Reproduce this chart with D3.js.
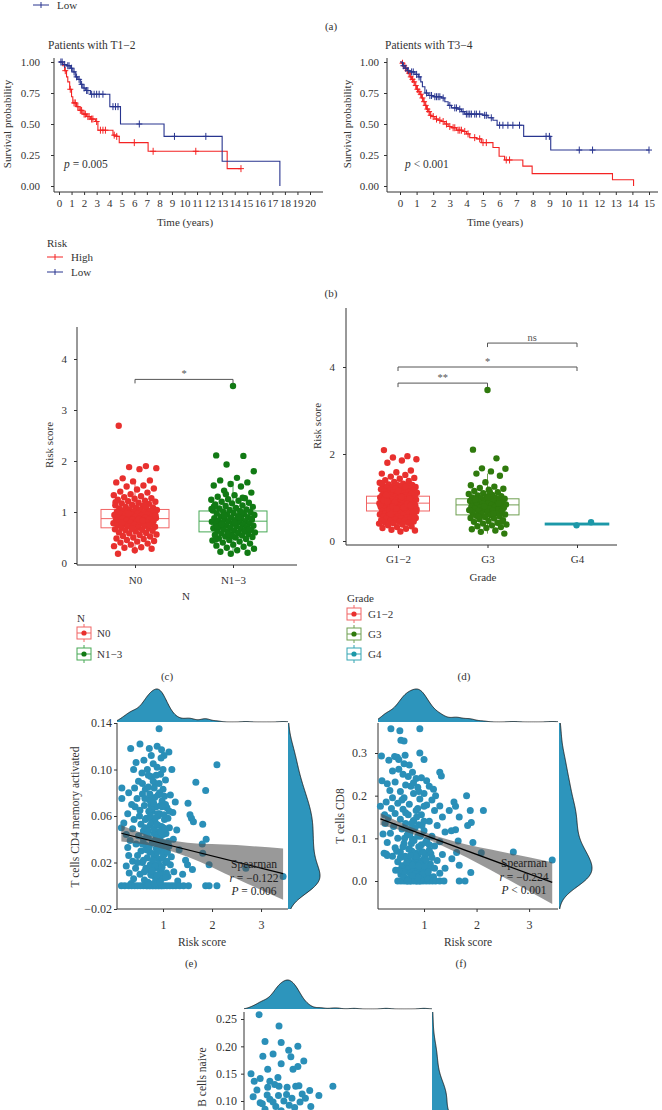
<!DOCTYPE html>
<html><head><meta charset="utf-8">
<script src="https://cdn.jsdelivr.net/npm/d3@7"></script>
<style>
body{margin:0;background:#fff;}
svg text{font-family:"Liberation Serif","DejaVu Serif",serif;}
</style></head><body>
<svg id="c" width="662" height="1110" style="background:#fff"></svg>
<script>
// ---------- DATA ----------
// (b) Kaplan–Meier, T1–2
const t12HighTime=[0,0.3,0.45,0.6,0.7,0.85,1.0,1.1,1.4,1.6,1.9,2.2,2.5,2.9,3.1,4.3,4.6,4.8,7.1,13.4];
const t12HighSurv=[1,0.97,0.93,0.88,0.84,0.78,0.72,0.67,0.64,0.61,0.58,0.56,0.54,0.52,0.45,0.41,0.40,0.35,0.28,0.14];
const t12HighEnd=14.5;
const t12HighCensor=[0.5,0.9,1.2,1.3,1.5,1.7,1.8,2.0,2.1,2.3,2.4,2.6,2.7,3.0,3.3,3.5,3.7,4.4,4.6,6.0,7.5,10.9,14.5];
const t12LowTime=[0,0.3,0.6,0.9,1.1,1.3,1.5,1.7,1.9,2.1,2.5,4.05,4.9,8.37,13.0,17.6];
const t12LowSurv=[1,0.98,0.97,0.95,0.92,0.88,0.86,0.82,0.79,0.77,0.74,0.64,0.50,0.40,0.20,0];
const t12LowEnd=17.6;
const t12LowCensor=[0.15,0.25,0.45,0.7,0.8,1.0,1.2,1.4,1.6,1.8,2.0,2.2,2.3,2.6,2.8,3.0,3.2,3.5,4.3,4.5,4.7,6.4,9.2,11.7];
// (b) Kaplan–Meier, T3–4
const t34HighTime=[0,0.1,0.2,0.3,0.4,0.5,0.6,0.7,0.8,0.9,1.0,1.1,1.2,1.3,1.4,1.5,1.6,1.7,1.8,1.9,2.1,2.3,2.5,2.7,2.9,3.1,3.4,3.8,4.0,4.2,4.6,4.9,5.6,5.97,6.3,7.4,7.96,12.8,14.07];
const t34HighSurv=[1,0.99,0.97,0.95,0.93,0.91,0.88,0.86,0.84,0.81,0.78,0.76,0.74,0.71,0.68,0.65,0.62,0.60,0.57,0.56,0.54,0.53,0.52,0.50,0.48,0.47,0.45,0.44,0.42,0.39,0.38,0.35,0.31,0.24,0.21,0.16,0.10,0.05,0.0];
const t34HighEnd=14.07;
const t34HighCensor=[0.15,0.25,0.35,0.45,0.55,0.65,0.75,0.85,0.95,1.05,1.15,1.25,1.35,1.45,1.55,1.65,1.75,1.85,2.0,2.2,2.4,2.6,2.8,3.0,3.2,3.3,3.5,3.6,3.7,3.9,4.1,4.5,4.8,5.0,5.2,6.4,6.6];
const t34LowTime=[0,0.15,0.3,0.45,0.6,0.9,1.1,1.25,1.35,1.5,1.7,2.0,2.5,2.7,2.9,3.1,3.5,3.7,3.9,5.0,5.3,5.6,5.85,7.45,9.08];
const t34LowSurv=[1,0.97,0.95,0.93,0.92,0.90,0.88,0.84,0.80,0.75,0.73,0.72,0.71,0.68,0.65,0.63,0.62,0.60,0.58,0.57,0.55,0.53,0.49,0.40,0.29];
const t34LowEnd=15.0;
const t34LowCensor=[0.2,0.35,0.5,0.7,0.8,1.0,1.15,1.6,1.8,1.9,2.1,2.2,2.3,2.4,2.6,3.0,3.3,3.4,3.6,3.8,4.0,4.1,4.2,4.3,4.5,4.6,4.8,5.1,5.2,5.5,6.0,6.2,6.5,6.8,7.2,8.8,9.0,10.8,11.6,15.0];

// (c) Risk score by N stage
const nCats=["N0","N1−3"];
const riskN0=[2.69,1.90,1.88,1.86,1.84,1.66,1.62,1.60,1.58,1.52,1.50,1.46,1.44,1.40,1.38,1.35,1.33,1.31,1.29,1.27,1.26,1.24,1.22,1.21,1.20,1.18,1.17,1.16,1.14,1.13,1.12,1.10,1.09,1.08,1.07,1.06,1.05,1.04,1.04,1.03,1.02,1.01,1.00,0.99,0.99,0.98,0.97,0.96,0.95,0.95,0.94,0.93,0.92,0.91,0.91,0.90,0.89,0.88,0.88,0.87,0.87,0.86,0.85,0.84,0.84,0.83,0.82,0.81,0.80,0.80,0.79,0.78,0.77,0.76,0.76,0.75,0.74,0.73,0.72,0.71,0.70,0.69,0.68,0.67,0.66,0.65,0.64,0.63,0.62,0.60,0.59,0.58,0.56,0.55,0.53,0.52,0.50,0.48,0.47,0.45,0.43,0.42,0.40,0.38,0.36,0.33,0.31,0.30,0.28,0.25,0.18,1.11,0.97,0.93,0.86,0.79,0.74,0.68,1.19,0.83];
const riskN13=[3.47,2.11,2.10,1.93,1.80,1.67,1.62,1.58,1.55,1.52,1.50,1.42,1.38,1.33,1.30,1.27,1.25,1.24,1.22,1.20,1.18,1.17,1.15,1.13,1.12,1.10,1.08,1.07,1.05,1.04,1.03,1.02,1.01,1.00,0.98,0.97,0.96,0.95,0.94,0.92,0.91,0.90,0.89,0.88,0.87,0.86,0.85,0.84,0.83,0.82,0.82,0.81,0.80,0.79,0.78,0.77,0.76,0.75,0.74,0.73,0.72,0.71,0.70,0.69,0.68,0.67,0.66,0.65,0.64,0.63,0.62,0.61,0.60,0.59,0.58,0.57,0.56,0.55,0.54,0.52,0.51,0.50,0.48,0.47,0.45,0.44,0.42,0.40,0.38,0.36,0.34,0.32,0.30,0.28,0.25,0.22,0.20,0.18,1.11,0.99,0.93,0.87,0.79,0.71,0.64,0.57,1.06,0.90,0.76,0.66,0.53,0.46,1.28,1.35];
// box stats: [lower whisker, Q1, median, Q3, upper whisker]
const nStats=[[0.18,0.69,0.87,1.05,1.58],[0.18,0.61,0.82,1.02,1.60]];
const nBrackets=[["N0","N1−3",3.6,"*"]];

// (d) Risk score by grade
const gCats=["G1−2","G3","G4"];
const riskG12=[2.09,1.95,1.92,1.88,1.85,1.80,1.62,1.58,1.55,1.52,1.48,1.45,1.43,1.40,1.38,1.36,1.34,1.32,1.30,1.29,1.28,1.27,1.26,1.25,1.24,1.23,1.22,1.21,1.20,1.19,1.18,1.17,1.16,1.15,1.14,1.13,1.12,1.11,1.10,1.09,1.08,1.07,1.06,1.05,1.05,1.04,1.03,1.03,1.02,1.01,1.00,1.00,0.99,0.98,0.98,0.97,0.96,0.96,0.95,0.94,0.94,0.93,0.92,0.92,0.91,0.90,0.90,0.89,0.88,0.88,0.87,0.87,0.86,0.86,0.85,0.84,0.84,0.83,0.82,0.82,0.81,0.80,0.80,0.79,0.78,0.78,0.77,0.76,0.76,0.75,0.74,0.74,0.73,0.72,0.71,0.70,0.70,0.69,0.68,0.67,0.66,0.65,0.64,0.63,0.62,0.61,0.60,0.59,0.58,0.57,0.56,0.55,0.54,0.53,0.52,0.51,0.50,0.49,0.48,0.47,0.46,0.45,0.44,0.43,0.42,0.41,0.40,0.38,0.36,0.34,0.32,0.30,0.28,0.26,0.24,0.22,1.06,0.97,0.89,0.83,0.77,0.72,0.66,1.15,0.93,0.85,0.79,0.68,1.01,0.91,0.81,0.75,1.33,1.25,0.62,0.57];
const riskG3=[3.47,2.10,1.90,1.67,1.66,1.60,1.55,1.50,1.35,1.28,1.25,1.22,1.20,1.18,1.15,1.12,1.10,1.08,1.06,1.05,1.03,1.02,1.00,0.99,0.98,0.97,0.96,0.95,0.94,0.93,0.92,0.91,0.90,0.89,0.88,0.87,0.86,0.85,0.84,0.83,0.82,0.81,0.80,0.79,0.78,0.77,0.76,0.75,0.74,0.73,0.72,0.71,0.70,0.69,0.68,0.66,0.65,0.64,0.62,0.61,0.60,0.58,0.57,0.55,0.53,0.52,0.50,0.48,0.46,0.44,0.42,0.40,0.38,0.36,0.34,0.32,0.30,0.27,0.24,0.21,0.17,1.13,0.95,0.87,0.80,0.71,0.63,0.56,0.45,1.00];
const riskG4=[0.43,0.36];
const gStats=[[0.22,0.69,0.87,1.03,1.55],[0.17,0.60,0.83,0.97,1.55],[0.36,0.375,0.39,0.405,0.43]];
const gBrackets=[["G1−2","G3",3.63,"**"],["G1−2","G4",4.0,"*"],["G3","G4",4.55,"ns"]];

// (e) Risk score vs T cells CD4 memory activated  [risk, fraction]
const eData=[[0.92,0.135],[0.53,0.122],[0.34,0.118],[0.72,0.118],[0.97,0.117],[1.12,0.115],[1.02,0.112],[0.61,0.108],[0.45,0.106],[0.80,0.105],[0.88,0.102],[0.40,0.100],[0.68,0.100],[1.18,0.100],[2.10,0.104],[0.57,0.097],[0.95,0.096],[0.75,0.094],[1.05,0.091],[0.50,0.090],[0.84,0.088],[1.67,0.089],[0.16,0.084],[0.42,0.084],[0.64,0.083],[1.00,0.083],[1.87,0.082],[0.30,0.080],[0.58,0.079],[0.90,0.078],[1.15,0.078],[0.16,0.075],[0.47,0.075],[0.72,0.074],[0.98,0.073],[1.25,0.072],[1.51,0.071],[0.36,0.070],[0.62,0.069],[0.86,0.068],[1.08,0.067],[0.53,0.065],[0.78,0.064],[1.20,0.063],[0.28,0.062],[0.93,0.062],[1.55,0.061],[1.58,0.058],[0.66,0.058],[1.03,0.057],[0.41,0.057],[0.83,0.056],[1.62,0.055],[0.20,0.054],[0.55,0.053],[1.81,0.053],[0.74,0.052],[0.97,0.051],[1.13,0.050],[0.15,0.050],[0.38,0.049],[1.28,0.048],[0.60,0.047],[0.88,0.046],[1.06,0.045],[0.25,0.044],[0.50,0.043],[0.70,0.042],[0.94,0.041],[1.21,0.040],[1.88,0.040],[0.33,0.039],[0.79,0.038],[1.01,0.037],[1.80,0.036],[0.45,0.036],[0.64,0.035],[1.12,0.034],[0.28,0.033],[0.86,0.032],[1.33,0.031],[0.55,0.030],[0.73,0.029],[0.99,0.029],[1.81,0.028],[0.30,0.026],[0.48,0.026],[1.17,0.025],[0.68,0.024],[0.92,0.023],[1.46,0.022],[0.38,0.021],[0.58,0.020],[1.05,0.020],[1.94,0.018],[0.80,0.018],[0.25,0.017],[1.50,0.018],[1.60,0.014],[0.44,0.015],[0.67,0.014],[2.69,0.015],[0.95,0.013],[1.22,0.012],[0.31,0.011],[0.53,0.010],[3.45,0.008],[0.76,0.009],[1.10,0.008],[1.40,0.010],[0.40,0.006],[0.62,0.005],[0.87,0.005],[1.30,0.004],[0.35,0.002],[0.72,0.002],[0.15,0],[0.22,0],[0.30,0],[0.36,0],[0.42,0],[0.48,0],[0.54,0],[0.60,0],[0.66,0],[0.72,0],[0.78,0],[0.84,0],[0.90,0],[0.96,0],[1.02,0],[1.08,0],[1.14,0],[1.20,0],[1.26,0],[1.34,0],[1.42,0],[1.52,0],[1.87,0],[1.94,0],[2.10,0],[0.52,0.060],[0.60,0.040],[0.70,0.085],[0.82,0.045],[0.90,0.060],[1.00,0.050],[1.10,0.058],[0.65,0.015],[0.75,0.070],[0.85,0.025],[0.95,0.035],[1.05,0.070],[0.58,0.088],[0.48,0.020],[1.15,0.018],[0.43,0.068],[0.80,0.010],[1.00,0.010],[0.63,0.050],[0.88,0.015]];
const eCore=[[0.62,0.012],[0.66,0.031],[0.70,0.047],[0.74,0.018],[0.77,0.055],[0.81,0.027],[0.83,0.008],[0.86,0.041],[0.89,0.062],[0.91,0.019],[0.94,0.033],[0.97,0.006],[1.00,0.044],[1.03,0.027],[1.07,0.011],[1.11,0.038],[0.58,0.036],[0.64,0.057],[0.69,0.003],[0.72,0.034],[0.76,0.066],[0.79,0.022],[0.82,0.049],[0.85,0.004],[0.88,0.029],[0.90,0.052],[0.93,0.015],[0.96,0.047],[0.99,0.024],[1.02,0.061],[1.05,0.007],[1.09,0.029],[0.60,0.022],[0.67,0.044],[0.71,0.064],[0.75,0.010],[0.78,0.037],[0.81,0.071],[0.84,0.017],[0.87,0.053],[0.92,0.039],[0.95,0.069],[0.98,0.016],[1.01,0.034],[1.04,0.049],[1.08,0.021],[1.13,0.064],[0.63,0.075],[0.73,0.079],[0.83,0.076],[0.93,0.080],[1.03,0.077],[0.68,0],[0.74,0],[0.80,0],[0.86,0],[0.92,0],[0.98,0],[0.70,0.001],[0.82,0.002],[0.94,0.003],[0.88,0.009],[0.78,0.013],[0.90,0.035],[0.84,0.058],[0.80,0.090],[0.86,0.095],[0.92,0.088],[0.96,0.110],[0.76,0.112],[0.70,0.095],[1.00,0.100],[0.88,0.120],[0.82,0.084],[0.98,0.068],[0.74,0.060]];
const eFit=[0.0467,-0.0105];
const eBandX=[0.15,0.9,1.5,2.5,3.45];
const eBandLo=[0.038,0.033,0.025,0.006,-0.012];
const eBandHi=[0.052,0.041,0.037,0.035,0.032];
const eStats=["Spearman","−0.122","= 0.006"];

// (f) Risk score vs T cells CD8
const fData=[[0.37,0.357],[0.54,0.352],[0.92,0.357],[0.56,0.330],[0.62,0.328],[0.19,0.293],[0.44,0.292],[0.49,0.290],[0.64,0.295],[0.92,0.300],[1.00,0.285],[0.33,0.283],[1.30,0.255],[1.33,0.246],[0.20,0.235],[0.17,0.175],[1.81,0.200],[1.57,0.185],[1.60,0.175],[2.13,0.165],[1.88,0.165],[1.48,0.165],[1.90,0.137],[1.83,0.130],[1.67,0.150],[1.60,0.120],[1.52,0.118],[1.65,0.094],[1.93,0.090],[0.24,0.065],[0.28,0.063],[2.09,0.066],[2.70,0.068],[3.44,0.049],[1.62,0.067],[1.53,0.052],[1.67,0.037],[1.89,0.020],[1.67,0.0],[1.78,0.0],[0.40,0.258],[0.52,0.262],[0.60,0.250],[0.70,0.245],[0.78,0.255],[0.85,0.240],[0.95,0.242],[1.05,0.235],[0.30,0.228],[0.45,0.232],[0.65,0.225],[0.75,0.222],[0.88,0.220],[1.10,0.222],[1.18,0.215],[0.35,0.212],[0.55,0.210],[0.80,0.205],[1.00,0.205],[1.22,0.200],[0.40,0.195],[0.62,0.195],[0.92,0.192],[1.15,0.190],[0.28,0.185],[0.50,0.182],[0.72,0.180],[1.05,0.178],[1.30,0.176],[0.38,0.170],[0.60,0.168],[0.85,0.165],[1.20,0.165],[0.45,0.158],[0.70,0.155],[0.95,0.155],[1.35,0.150],[0.32,0.148],[0.55,0.145],[0.80,0.142],[1.10,0.140],[0.65,0.135],[0.90,0.132],[1.25,0.130],[0.42,0.128],[0.58,0.122],[0.75,0.120],[1.00,0.118],[1.40,0.115],[0.36,0.112],[0.68,0.108],[0.88,0.105],[1.15,0.105],[0.50,0.100],[0.78,0.098],[1.05,0.095],[1.30,0.092],[0.30,0.090],[0.62,0.088],[0.95,0.085],[1.20,0.082],[0.45,0.078],[0.72,0.075],[1.10,0.072],[0.55,0.068],[0.85,0.065],[1.35,0.062],[0.40,0.058],[0.66,0.055],[1.00,0.052],[1.25,0.048],[0.50,0.045],[0.78,0.042],[1.12,0.040],[0.60,0.035],[0.92,0.032],[1.40,0.030],[0.46,0.025],[0.70,0.022],[1.05,0.020],[1.30,0.018],[0.56,0.015],[0.84,0.012],[1.18,0.010],[0.65,0.006],[0.98,0.005],[0.50,0],[0.56,0],[0.62,0],[0.68,0],[0.74,0],[0.80,0],[0.86,0],[0.92,0],[0.98,0],[1.04,0],[1.10,0],[1.16,0],[1.22,0],[1.30,0],[1.38,0],[0.26,0.135],[0.22,0.110],[0.30,0.060],[0.25,0.155],[0.62,0.275],[0.72,0.272],[0.52,0.285],[0.80,0.230],[0.90,0.210],[1.00,0.175],[0.58,0.190]];
const fCore=[[0.62,0.010],[0.66,0.030],[0.70,0.050],[0.74,0.018],[0.77,0.070],[0.81,0.026],[0.83,0.008],[0.86,0.042],[0.89,0.062],[0.91,0.020],[0.94,0.034],[0.97,0.006],[1.00,0.046],[1.03,0.027],[1.07,0.012],[1.11,0.038],[0.58,0.036],[0.64,0.058],[0.69,0.003],[0.72,0.034],[0.76,0.088],[0.79,0.022],[0.82,0.049],[0.85,0.004],[0.88,0.028],[0.90,0.080],[0.93,0.015],[0.96,0.047],[0.99,0.024],[1.02,0.061],[1.05,0.007],[1.09,0.029],[0.60,0.022],[0.67,0.044],[0.71,0.075],[0.75,0.010],[0.78,0.037],[0.81,0.095],[0.84,0.017],[0.87,0.053],[0.92,0.039],[0.95,0.069],[0.98,0.016],[1.01,0.034],[1.04,0.049],[1.08,0.021],[1.13,0.064],[0.63,0.100],[0.73,0.110],[0.83,0.125],[0.93,0.105],[1.03,0.090],[0.68,0],[0.74,0],[0.86,0],[0.92,0],[0.70,0.001],[0.82,0.002],[0.94,0.003],[0.88,0.009],[0.78,0.013],[0.90,0.035],[0.84,0.058],[0.80,0.140],[0.86,0.150],[0.96,0.130],[0.76,0.135],[0.70,0.120],[1.00,0.140],[0.88,0.170],[0.65,0.160],[0.98,0.068],[0.74,0.060],[0.60,0.080],[1.10,0.085],[1.15,0.055],[1.20,0.030],[0.55,0.055],[0.52,0.025],[0.48,0.070]];
const fFit=[0.1532,-0.04545];
const fBandX=[0.17,0.95,1.6,2.5,3.44];
const fBandLo=[0.131,0.103,0.068,0.010,-0.054];
const fBandHi=[0.159,0.117,0.092,0.068,0.044];
const fStats=["Spearman","−0.224","< 0.001"];

// (g) Risk score vs B cells naive (lower part cut by the page)
const gData=[[0.34,0.258],[0.71,0.237],[0.45,0.209],[0.75,0.207],[1.06,0.200],[0.89,0.193],[0.41,0.182],[0.60,0.186],[0.93,0.181],[1.17,0.173],[0.75,0.168],[0.50,0.158],[0.97,0.158],[1.06,0.163],[0.19,0.150],[0.25,0.136],[0.36,0.141],[0.54,0.136],[0.69,0.143],[0.63,0.130],[0.71,0.127],[0.86,0.125],[1.02,0.127],[1.08,0.128],[1.14,0.113],[1.28,0.119],[1.45,0.110],[1.71,0.127],[0.23,0.108],[0.36,0.097],[0.49,0.111],[0.54,0.103],[0.40,0.095],[0.60,0.098],[0.80,0.100],[0.95,0.105],[1.10,0.098],[0.70,0.110],[0.85,0.112],[0.30,0.120],[0.50,0.125],[1.20,0.105],[0.65,0.090],[0.90,0.092],[1.00,0.088],[0.45,0.085],[0.75,0.082],[1.30,0.090],[0.50,0.05],[0.80,0.04],[1.00,0.02],[0.60,0.0],[0.90,0.0],[1.20,0.03],[0.70,0.06],[0.40,0.03],[1.10,0.06],[0.85,0.07],[0.95,0.01],[0.55,0.075],[1.50,0.02],[1.80,0.0],[2.10,0.01],[2.70,0.0],[3.40,0.01],[0.65,0.04],[0.78,0.02],[0.88,0.05],[1.05,0.04],[0.45,0.06],[0.35,0.07],[1.25,0.05]];
const gCore=[[0.62,0.010],[0.66,0.030],[0.70,0.050],[0.74,0.018],[0.77,0.065],[0.81,0.026],[0.83,0.008],[0.86,0.042],[0.89,0.060],[0.91,0.020],[0.94,0.034],[0.97,0.006],[1.00,0.046],[1.03,0.027],[1.07,0.012],[1.11,0.038],[0.58,0.036],[0.64,0.058],[0.69,0.003],[0.72,0.034],[0.76,0.072],[0.79,0.022],[0.82,0.049],[0.85,0.004],[0.88,0.028],[0.90,0.070],[0.93,0.015],[0.96,0.047],[0.99,0.024],[1.02,0.061],[1.05,0.007],[1.09,0.029],[0.60,0.022],[0.67,0.044],[0.71,0.075],[0.75,0.010],[0.78,0.037],[0.81,0.055],[0.84,0.017],[0.87,0.053],[0.92,0.039],[0.95,0.069],[0.98,0.016],[1.01,0.034],[1.04,0.049],[1.08,0.021],[1.13,0.064],[0.68,0],[0.74,0],[0.80,0],[0.86,0],[0.92,0],[0.98,0],[1.04,0],[0.70,0.001],[0.82,0.002],[0.94,0.003],[0.88,0.009],[0.78,0.013],[0.90,0.035],[0.84,0.058],[0.65,0.025],[0.72,0.005],[0.79,0.045],[0.85,0.030],[0.91,0.010],[0.97,0.055],[1.02,0.015],[0.56,0.012],[0.60,0.048],[1.15,0.020],[1.20,0.045]];

// ---------- DRAWING ----------
const svg=d3.select('#c');
const FONT='"Liberation Serif","DejaVu Serif",serif';
const RED='#f42323', BLUE='#28358f';

function line(x1,y1,x2,y2,col,w){return svg.append('line').attr('x1',x1).attr('y1',y1).attr('x2',x2).attr('y2',y2).attr('stroke',col||'#333').attr('stroke-width',w||1);}
function txt(x,y,s,o){o=o||{};const t=svg.append('text').attr('x',x).attr('y',y).attr('font-size',o.size||11).attr('text-anchor',o.anchor||'start').attr('dominant-baseline','central').attr('fill',o.fill||'#333');if(o.rotate)t.attr('transform',`rotate(-90,${x},${y})`);if(o.italic)t.attr('font-style','italic');t.text(s);return t;}
function rich(x,y,parts,o){o=o||{};const t=svg.append('text').attr('x',x).attr('y',y).attr('font-size',o.size||11).attr('text-anchor',o.anchor||'start').attr('dominant-baseline','central').attr('fill',o.fill||'#333');parts.forEach(p=>t.append('tspan').attr('font-style',p[1]?'italic':'normal').text(p[0]));return t;}
function styleAxis(g,fs){g.select('.domain').remove();g.selectAll('line').attr('stroke','#333');g.selectAll('text').attr('font-size',fs).attr('font-family',FONT).attr('fill','#333');}
function axisL(scale,vals,x,fmt,pad,fs){const a=d3.axisLeft(scale).tickValues(vals).tickSize(3).tickPadding(pad).tickSizeOuter(0);if(fmt)a.tickFormat(fmt);const g=svg.append('g').attr('transform',`translate(${x},0)`).call(a);styleAxis(g,fs);return g;}
function axisB(scale,vals,y,fmt,pad,fs){const a=d3.axisBottom(scale).tickValues(vals).tickSize(3).tickPadding(pad).tickSizeOuter(0);if(fmt)a.tickFormat(fmt);const g=svg.append('g').attr('transform',`translate(0,${y})`).call(a);styleAxis(g,fs);return g;}

// top fragment of panel (a) legend
line(33,5,49,5,BLUE);line(41,2,41,8,BLUE);
txt(57,5,'Low',{size:11});
txt(331,26,'(a)',{size:11,anchor:'middle'});

// ---- Kaplan–Meier panels ----
function stepPts(times,surv,end){const p=[];for(let i=0;i<times.length;i++){if(i>0)p.push([times[i],surv[i-1]]);p.push([times[i],surv[i]]);}p.push([end,surv[surv.length-1]]);return p;}
function survAt(times,surv,t){let s=surv[0];for(let i=0;i<times.length;i++){if(times[i]<=t)s=surv[i];}return s;}
function kmPanel(o){
  const x=d3.scaleLinear().domain([0,o.xmax]).range([o.x0,o.x1]);
  const y=d3.scaleLinear().domain([0,1]).range([186,62]);
  line(o.ax,58,o.ax,192);line(o.ax,192,o.axEnd,192);
  axisL(y,[0,0.25,0.5,0.75,1],o.ax,d3.format('.2f'),o.ypad,11);
  axisB(x,d3.range(0,o.xmax+1),192,d3.format('d'),4,11);
  const ln=d3.line().x(d=>x(d[0])).y(d=>y(d[1]));
  o.series.forEach(s=>{
    svg.append('path').attr('d',ln(stepPts(s.t,s.s,s.end))).attr('fill','none').attr('stroke',s.col).attr('stroke-width',1.1);
    s.c.forEach(ct=>{const cx=x(ct),cy=y(survAt(s.t,s.s,ct));line(cx,cy-3.5,cx,cy+3.5,s.col,1);line(cx-3,cy,cx+3,cy,s.col,1);});
  });
  txt(o.titleX,45,o.title,{size:11.5});
  txt(o.ylabX,124,'Survival probability',{size:11,anchor:'middle',rotate:true});
  txt(o.xlabX,222,'Time (years)',{size:11,anchor:'middle'});
  rich(o.pX,164,[['p',true],[' '+o.p,false]],{size:11.5});
}
kmPanel({xmax:20,x0:59,x1:310,ax:54,axEnd:323,ypad:11,title:'Patients with T1−2',titleX:48,ylabX:7,xlabX:185,pX:64,p:'= 0.005',
  series:[{t:t12HighTime,s:t12HighSurv,end:t12HighEnd,c:t12HighCensor,col:RED},{t:t12LowTime,s:t12LowSurv,end:t12LowEnd,c:t12LowCensor,col:BLUE}]});
kmPanel({xmax:15,x0:400,x1:649,ax:387,axEnd:658,ypad:5,title:'Patients with T3−4',titleX:385,ylabX:347,xlabX:495,pX:405,p:'< 0.001',
  series:[{t:t34HighTime,s:t34HighSurv,end:t34HighEnd,c:t34HighCensor,col:RED},{t:t34LowTime,s:t34LowSurv,end:t34LowEnd,c:t34LowCensor,col:BLUE}]});
// Risk legend
txt(47,243,'Risk',{size:11});
line(47,257,63,257,RED);line(55,254,55,260,RED);txt(71,257,'High',{size:11});
line(47,272,63,272,BLUE);line(55,269,55,275,BLUE);txt(71,272,'Low',{size:11});
txt(331,293,'(b)',{size:11,anchor:'middle'});

// ---- Box panels ----
function boxPanel(o){
  const y=d3.scaleLinear().domain([0,4]).range(o.yr);
  const x=d3.scalePoint().domain(o.cats).range(o.xr);
  line(o.ax,o.yTop,o.ax,o.axY);line(o.ax,o.axY,o.axEnd,o.axY);
  axisL(y,o.yt,o.ax,d3.format('d'),o.ypad,11);
  axisB(x,o.cats,o.axY,null,o.xpad,11);
  o.cats.forEach((c,i)=>{
    const st=o.stats[i],cx=x(c),col=o.line[i],sw=o.sw[i],bw=o.bw;
    line(cx,y(st[0]),cx,y(st[1]),col,1);line(cx,y(st[3]),cx,y(st[4]),col,1);
    svg.append('rect').attr('x',cx-bw/2).attr('y',y(st[3])).attr('width',bw).attr('height',Math.max(0.5,y(st[1])-y(st[3]))).attr('fill','none').attr('stroke',col).attr('stroke-width',sw);
    line(cx-bw/2,y(st[2]),cx+bw/2,y(st[2]),col,sw);
  });
  o.cats.forEach((c,i)=>{
    const cx=x(c);
    o.vals[i].forEach((v,j)=>{
      const jt=((j*0.6180339887+0.37*i+0.13)%1)*2-1;
      svg.append('circle').attr('cx',cx+jt*o.jw).attr('cy',y(v)).attr('r',3.2).attr('fill',o.pt[i]);
    });
  });
  o.brackets.forEach(b=>{
    const x1=x(b[0]),x2=x(b[1]),yy=y(b[2]);
    svg.append('path').attr('d',`M${x1},${yy+4}V${yy}H${x2}V${yy+4}`).attr('fill','none').attr('stroke','#555').attr('stroke-width',1);
    txt((x1+x2)/2,yy-6,b[3],{size:10.5,anchor:'middle',fill:'#555'});
  });
  txt(o.ylabX,o.ylabY,'Risk score',{size:11,anchor:'middle',rotate:true});
  txt(o.xtX,o.xtY,o.xt,{size:11,anchor:'middle'});
}
boxPanel({cats:nCats,yr:[563,359],xr:[135,233],ax:77,yTop:327,axY:565,axEnd:297,yt:[0,1,2,3,4],ypad:7,xpad:8,
  stats:nStats,vals:[riskN0,riskN13],line:['#f16464','#46a854'],pt:['#e8302e','#117a14'],sw:[1,1],bw:68,jw:22,
  brackets:nBrackets,ylabX:49,ylabY:445,xt:'N',xtX:186,xtY:596});
boxPanel({cats:gCats,yr:[541,367],xr:[398,577],ax:346,yTop:308,axY:545,axEnd:617,yt:[0,2,4],ypad:8,xpad:7,
  stats:gStats,vals:[riskG12,riskG3,riskG4],line:['#f16464','#6f9f51','#1c98a8'],pt:['#e8302e','#2f7a0d','#1c98a8'],sw:[1,1,1.6],bw:63,jw:19,
  brackets:gBrackets,ylabX:317,ylabY:426,xt:'Grade',xtX:483,xtY:577});
function legIcon(x,y,col,dot){
  line(x+7,y-9,x+7,y+9,col,1);
  svg.append('rect').attr('x',x).attr('y',y-6).attr('width',14).attr('height',12).attr('fill','#fff').attr('stroke',col);
  line(x,y,x+14,y,col,1);
  svg.append('circle').attr('cx',x+7).attr('cy',y).attr('r',2.6).attr('fill',dot);
}
txt(77,618,'N',{size:11});
legIcon(77,633,'#f16464','#e8302e');txt(97,633,'N0',{size:11});
legIcon(77,654,'#46a854','#117a14');txt(97,654,'N1−3',{size:11});
txt(167,676,'(c)',{size:11,anchor:'middle'});
txt(347,598,'Grade',{size:11});
legIcon(347,614,'#f16464','#e8302e');txt(368,614,'G1−2',{size:11});
legIcon(347,634,'#6f9f51','#2f7a0d');txt(368,634,'G3',{size:11});
legIcon(347,654,'#35a5b3','#1c98a8');txt(368,654,'G4',{size:11});
txt(464,676,'(d)',{size:11,anchor:'middle'});

// ---- Scatter panels with marginal densities ----
function nrd0(v){const s=v.slice().sort(d3.ascending);const sd=d3.deviation(s);const iqr=(d3.quantile(s,0.75)-d3.quantile(s,0.25))/1.34;return 0.9*Math.min(sd,iqr>0?iqr:sd)*Math.pow(s.length,-0.2);}
function kde(v,bw,lo,hi){const n=300,out=[];for(let i=0;i<=n;i++){const g=lo+(hi-lo)*i/n;let s=0;for(const d of v){const z=(g-d)/bw;s+=Math.exp(-0.5*z*z);}out.push([g,s/(v.length*bw*Math.sqrt(2*Math.PI))]);}return out;}
let clipN=0;
function clip(x,y,w,h){const id='cl'+(clipN++);svg.append('clipPath').attr('id',id).append('rect').attr('x',x).attr('y',y).attr('width',w).attr('height',h);return `url(#${id})`;}
const PT='#2a8fb8', DEN='#2d95bc';
function scatterPanel(o){
  const x=d3.scaleLinear().domain(o.xd).range([o.l,o.r]);
  const y=d3.scaleLinear().domain(o.yd).range(o.yr);
  const xs=o.data.map(d=>d[0]), ys=o.data.map(d=>d[1]);
  // top density
  const bx=nrd0(xs), dx=kde(xs,bx,d3.min(xs)-3*bx,d3.max(xs)+3*bx);
  const mx=d3.max(dx,d=>d[1]);
  const hs=d3.scaleLinear().domain([0,mx]).range([o.tb,o.tb-o.th]);
  const gt=svg.append('g').attr('clip-path',clip(o.l,o.tb-o.th-3,o.r-o.l,o.th+3.5));
  gt.append('path').attr('d',d3.area().x(d=>x(d[0])).y0(o.tb).y1(d=>hs(d[1]))(dx)).attr('fill',DEN);
  gt.append('path').attr('d',d3.line().x(d=>x(d[0])).y(d=>hs(d[1]))(dx)).attr('fill','none').attr('stroke','#111').attr('stroke-width',0.8);
  // right density
  const by=nrd0(ys), dy=kde(ys,by,d3.min(ys)-3*by,d3.max(ys)+3*by);
  const my=d3.max(dy,d=>d[1]);
  const ws=d3.scaleLinear().domain([0,my]).range([o.rb,o.rb+o.rw]);
  const gr=svg.append('g').attr('clip-path',clip(o.rb-0.5,o.top,o.rw+4,o.bot-o.top));
  gr.append('path').attr('d',d3.area().y(d=>y(d[0])).x0(o.rb).x1(d=>ws(d[1]))(dy)).attr('fill',DEN);
  gr.append('path').attr('d',d3.line().y(d=>y(d[0])).x(d=>ws(d[1]))(dy)).attr('fill','none').attr('stroke','#111').attr('stroke-width',0.8);
  // axes
  line(o.l,o.top,o.l,o.bot);line(o.l,o.bot,o.r,o.bot);
  axisL(y,o.yt,o.l,d3.format(o.yf),o.ypad,12);
  if(o.panel)axisB(x,[1,2,3],o.bot,d3.format('d'),8,12);
  // points
  const gp=svg.append('g');
  o.data.forEach(d=>gp.append('circle').attr('cx',x(d[0])).attr('cy',y(d[1])).attr('r',3.5).attr('fill',PT));
  // fit
  if(o.fit){
    const band=o.bandX.map((bx2,i)=>[bx2,o.bandLo[i],o.bandHi[i]]);
    svg.append('path').attr('d',d3.area().x(d=>x(d[0])).y0(d=>y(d[1])).y1(d=>y(d[2])).curve(d3.curveMonotoneX)(band)).attr('fill','#555').attr('fill-opacity',0.6);
    const ex=d3.extent(xs);
    line(x(ex[0]),y(o.fit[0]+o.fit[1]*ex[0]),x(ex[1]),y(o.fit[0]+o.fit[1]*ex[1]),'#000',1.2);
    txt(o.sx,o.sy,o.stats[0],{size:11.5,anchor:'middle',fill:'#222'});
    rich(o.sx,o.sy+14,[['r',true],[' = '+o.stats[1],false]],{size:11.5,anchor:'middle',fill:'#222'});
    rich(o.sx,o.sy+27,[['P',true],[' '+o.stats[2],false]],{size:11.5,anchor:'middle',fill:'#222'});
  }
  txt(o.ylX,o.ylY,o.yl,{size:o.ylS||11.5,anchor:'middle',rotate:true});
  if(o.panel){txt(o.xtX,942,'Risk score',{size:11.5,anchor:'middle'});txt(o.pX,963,o.panel,{size:11,anchor:'middle'});}
}
scatterPanel({data:eData.concat(eCore),xd:[0.061,3.55],l:117,r:288,yd:[-0.02,0.14],yr:[909,723],top:723,bot:909,yt:[-0.02,0.02,0.06,0.10,0.14],yf:'.2f',ypad:2,
  tb:722,th:33,rb:288,rw:32,fit:eFit,bandX:eBandX,bandLo:eBandLo,bandHi:eBandHi,stats:eStats,sx:254,sy:864,
  yl:'T cells CD4 memory activated',ylX:75,ylY:817,xtX:202,pX:191,panel:'(e)'});
scatterPanel({data:fData.concat(fCore),xd:[0.124,3.55],l:378,r:558,yd:[0,0.3],yr:[881,753],top:723,bot:909,yt:[0,0.1,0.2,0.3],yf:'.1f',ypad:8,
  tb:722,th:33,rb:559,rw:33,fit:fFit,bandX:fBandX,bandLo:fBandLo,bandHi:fBandHi,stats:fStats,sx:524,sy:863,
  yl:'T cells CD8',ylX:340,ylY:816,xtX:468,pX:461,panel:'(f)'});
scatterPanel({data:gData.concat(gCore),xd:[0.06,3.55],l:244,r:432,yd:[0.10,0.25],yr:[1101,1019],top:1012,bot:1198,yt:[0.10,0.15,0.20,0.25],yf:'.2f',ypad:4,
  tb:1009,th:29,rb:432,rw:33,fit:null,yl:'B cells naive',ylX:202,ylY:1077,ylS:11.5,panel:null});
</script>
</body></html>
